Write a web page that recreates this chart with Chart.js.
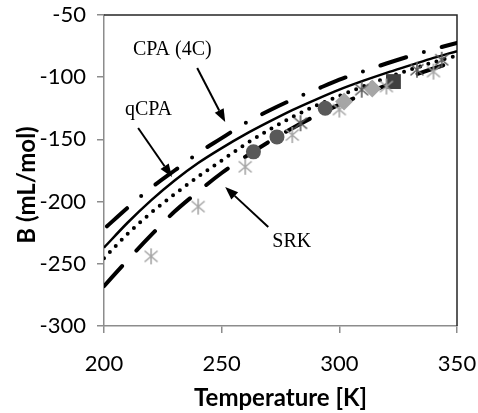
<!DOCTYPE html>
<html>
<head>
<meta charset="utf-8">
<script src="https://cdn.jsdelivr.net/npm/chart.js@4.4.1/dist/chart.umd.min.js"></script>
<style>
  html, body { margin: 0; padding: 0; background: #ffffff; }
</style>
</head>
<body>
<canvas id="chart" width="478" height="413"></canvas>
<script>
// model curves, every 10 K
const temps = [200, 210, 220, 230, 240, 250, 260, 270, 280, 290, 300, 310, 320, 330, 340, 350];
const cpa4c = [-222, -205, -189, -175, -161, -149, -137, -127, -118, -110, -102, -95.5, -89, -83, -77.5, -72.5];
const qcpa = [-237, -217, -199, -183, -169, -157, -146, -136, -126.5, -118, -110, -103, -96.5, -90.5, -84.5, -79];
const dotted = [-245.5, -226, -209, -194, -180, -167, -154, -142.5, -132, -123, -115, -107.5, -100.5, -94, -88, -82.5];
const srk = [-268, -247, -227, -208, -192, -177, -164, -152, -141, -131, -122, -114, -106.5, -99.5, -93, -87];

// experimental points
const starLightT = [220, 240, 260, 280, 300, 320, 340];
const starLightB = [-244, -204, -172, -146.5, -126, -107.5, -95.5];
const starDarkT = [283.5, 309.5, 333, 343.5];
const starDarkB = [-137, -110, -94, -86];
const circleT = [263.5, 273.5, 294];
const circleB = [-160, -148, -125];
const diamondT = [302, 314];
const diamondB = [-119.5, -109];
const squareT = [323];
const squareB = [-103.5];

const xTicks = [200, 250, 300, 350];
const yTicks = [-300, -250, -200, -150, -100, -50];

// labels and arrows, in data units
const notes = [
  { text: "CPA (4C)", at: [212.3, -82.5], from: [239.6, -92.6], to: [251.5, -136] },
  { text: "qCPA", at: [208.9, -130.4], from: [214.5, -140.8], to: [228.9, -180.2] },
  { text: "SRK", at: [271.5, -236.5], from: [269.8, -220.4], to: [251.5, -188.3] },
];

const pts = (xs, ys) => xs.map((x, i) => ({ x, y: ys[i] }));

function asterisk(color) {
  const c = document.createElement("canvas");
  c.width = 16; c.height = 18;
  const g = c.getContext("2d");
  g.strokeStyle = color;
  g.lineWidth = 1.6;
  g.beginPath();
  g.moveTo(8, 1); g.lineTo(8, 17);
  g.moveTo(1.5, 3.5); g.lineTo(14.5, 14.5);
  g.moveTo(14.5, 3.5); g.lineTo(1.5, 14.5);
  g.stroke();
  return c;
}

function curve(values, width, dash, offset) {
  return {
    type: "line",
    data: pts(temps, values),
    borderColor: "#000000",
    borderWidth: width,
    borderDash: dash,
    borderDashOffset: offset || 0,
    borderCapStyle: dash.length ? "round" : "butt",
    pointRadius: 0,
    cubicInterpolationMode: "monotone",
    fill: false,
    order: 2,
  };
}

function marker(xs, ys, style, color, radius) {
  return {
    type: "scatter",
    data: pts(xs, ys),
    pointStyle: style,
    pointRadius: radius,
    pointBackgroundColor: color,
    pointBorderColor: color,
    pointBorderWidth: 0,
    order: 1,
  };
}

const frame = {
  id: "frame",
  beforeDatasetsDraw(chart) {
    const { ctx, chartArea: a } = chart;
    ctx.save();
    ctx.strokeStyle = "#262626";
    ctx.lineWidth = 1.5;
    ctx.beginPath();
    ctx.moveTo(a.left, a.top);
    ctx.lineTo(a.right, a.top);
    ctx.lineTo(a.right, a.bottom);
    ctx.stroke();
    ctx.restore();
  },
  afterDatasetsDraw(chart) {
    const { ctx } = chart;
    const xs = chart.scales.x, ys = chart.scales.y;
    ctx.save();
    ctx.fillStyle = "#000";
    ctx.strokeStyle = "#000";
    ctx.font = "20px 'Liberation Serif'";
    ctx.textBaseline = "alphabetic";
    notes.forEach((n) => {
      ctx.fillText(n.text, xs.getPixelForValue(n.at[0]), ys.getPixelForValue(n.at[1]));
      const x0 = xs.getPixelForValue(n.from[0]), y0 = ys.getPixelForValue(n.from[1]);
      const x1 = xs.getPixelForValue(n.to[0]), y1 = ys.getPixelForValue(n.to[1]);
      const ang = Math.atan2(y1 - y0, x1 - x0);
      const len = 13, half = 5;
      const bx = x1 - len * Math.cos(ang), by = y1 - len * Math.sin(ang);
      ctx.lineWidth = 2;
      ctx.beginPath();
      ctx.moveTo(x0, y0);
      ctx.lineTo(bx, by);
      ctx.stroke();
      ctx.beginPath();
      ctx.moveTo(x1, y1);
      ctx.lineTo(bx + half * Math.sin(ang), by - half * Math.cos(ang));
      ctx.lineTo(bx - half * Math.sin(ang), by + half * Math.cos(ang));
      ctx.closePath();
      ctx.fill();
    });
    // y axis title
    ctx.translate(27, 185);
    ctx.rotate(-Math.PI / 2);
    ctx.font = "bold 24px Lato";
    ctx.textAlign = "center";
    ctx.textBaseline = "middle";
    ctx.fillText("B (mL/mol)", 0, 0);
    ctx.restore();
  },
};

new Chart(document.getElementById("chart"), {
  data: {
    datasets: [
      curve(cpa4c, 4, [27, 18.5, 0, 18.5], 60),
      curve(qcpa, 2.5, []),
      curve(dotted, 4, [0, 8.5]),
      curve(srk, 4, [27, 21]),
      marker(starLightT, starLightB, asterisk("#a6a6a6"), "#a6a6a6", 8),
      marker(starDarkT, starDarkB, asterisk("#595959"), "#595959", 8),
      marker(circleT, circleB, "circle", "#595959", 7.5),
      marker(diamondT, diamondB, "rectRot", "#a6a6a6", 9),
      marker(squareT, squareB, "rect", "#404040", 10.5),
    ],
  },
  options: {
    responsive: false,
    animation: false,
    events: [],
    layout: { padding: { left: 0, top: 15, right: 21, bottom: 0 } },
    plugins: { legend: { display: false }, tooltip: { enabled: false } },
    scales: {
      x: {
        type: "linear",
        min: 200,
        max: 350,
        afterBuildTicks: (s) => { s.ticks = xTicks.map((v) => ({ value: v })); },
        afterFit: (s) => { s.height = 87; s.paddingLeft = 0; s.paddingRight = 0; },
        grid: { drawOnChartArea: false, drawTicks: true, tickLength: 7, color: "#8c8c8c", lineWidth: 1.5 },
        border: { color: "#8c8c8c", width: 1.5 },
        ticks: { color: "#000", padding: 18, font: { family: "Lato", size: 22 } },
        title: {
          display: true,
          text: "Temperature [K]",
          color: "#000",
          padding: { top: 0, bottom: 0 },
          font: { family: "Lato", size: 24, weight: "bold" },
        },
      },
      y: {
        type: "linear",
        min: -300,
        max: -50,
        afterBuildTicks: (s) => { s.ticks = yTicks.map((v) => ({ value: v })); },
        afterFit: (s) => { s.width = 104; s.paddingTop = 0; s.paddingBottom = 0; },
        grid: { drawOnChartArea: false, drawTicks: true, tickLength: 7, color: "#8c8c8c", lineWidth: 1.5 },
        border: { color: "#8c8c8c", width: 1.5 },
        ticks: { color: "#000", padding: 11, font: { family: "Lato", size: 22 } },
      },
    },
  },
  plugins: [frame],
});
</script>
</body>
</html>
